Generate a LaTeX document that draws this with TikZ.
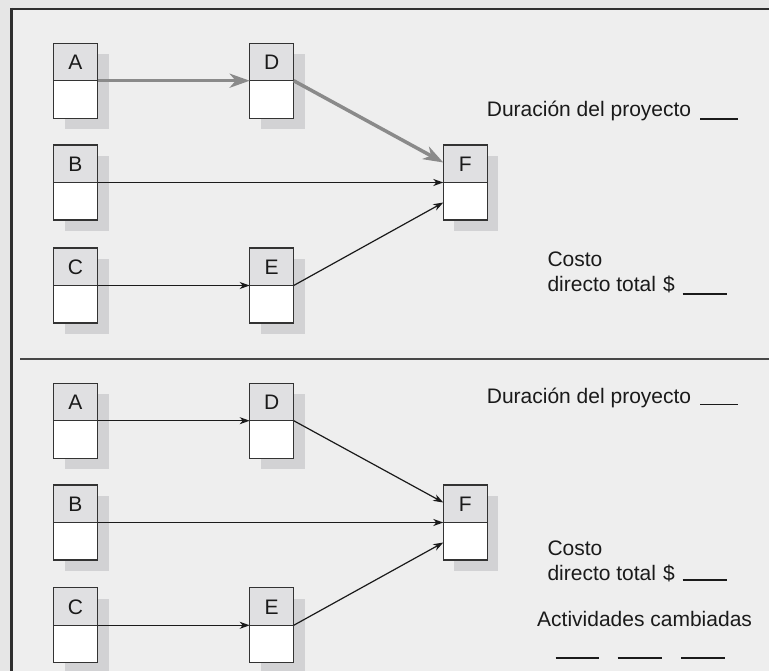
\documentclass[tikz,border=0pt]{standalone}
\usepackage{fontspec}
\setmainfont{Liberation Sans}
\usetikzlibrary{arrows.meta,shadows}
\definecolor{outerbg}{HTML}{E6E6E6}
\definecolor{innerbg}{HTML}{EEEEEE}
\definecolor{framec}{HTML}{2E2E2E}
\definecolor{topgray}{HTML}{E0E0E2}
\definecolor{shadowc}{HTML}{D2D2D4}
\definecolor{boxline}{HTML}{333333}
\definecolor{inkc}{HTML}{1A1A1A}
\definecolor{critc}{HTML}{8A8A8A}
\tikzset{
  every node/.style={font=\fontsize{21pt}{24pt}\selectfont, text=inkc},
  actbox/.style={draw=boxline, line width=1.3pt, fill=white,
    minimum width=44pt, minimum height=75pt, inner sep=0pt, outer sep=0pt,
    drop shadow={shadow xshift=11pt, shadow yshift=-11pt, fill=shadowc, opacity=1},
    path picture={
      \fill[topgray] (path picture bounding box.north west) rectangle (path picture bounding box.east);
      \draw[boxline, line width=1.3pt] (path picture bounding box.west) -- (path picture bounding box.east);
    },
    label={[yshift=18.5pt, inner sep=0pt]center:#1}},
  thinarrow/.style={draw=inkc, line width=1.2pt, -{Stealth[length=10pt,width=7pt,inset=3pt]}},
  critarrow/.style={draw=critc, line width=3.5pt, -{Stealth[length=20pt,width=14pt,inset=6pt]}},
  sidetext/.style={anchor=base west, inner sep=0pt},
  blank/.style={draw=inkc, line width=1.3pt},
}
\begin{document}
\begin{tikzpicture}[x=1pt,y=-1pt]
\useasboundingbox (0,0) rectangle (769,671);
\fill[outerbg] (0,0) rectangle (769,671);
\fill[innerbg] (11,9) rectangle (775,680);
\draw[framec, line width=2.8pt] (11,9) -- (775,9);
\draw[framec, line width=2.7pt] (11.3,8) -- (11.3,680);
\draw[draw=boxline!90, line width=1.5pt] (20,359) -- (775,359);

% ---------- top panel ----------
\node[actbox=A] (A1) at (75.5,80.7) {};
\node[actbox=D] (D1) at (271.7,80.7) {};
\node[actbox=B] (B1) at (75.5,182.5) {};
\node[actbox=F] (F1) at (465.3,182.5) {};
\node[actbox=C] (C1) at (75.5,285.5) {};
\node[actbox=E] (E1) at (271.7,285.5) {};

\draw[critarrow] (A1.east) -- (D1.west);
\draw[critarrow] (D1.east) -- ([yshift=20pt]F1.west);
\draw[thinarrow] (B1.east) -- (F1.west);
\draw[thinarrow] (C1.east) -- (E1.west);
\draw[thinarrow] (E1.east) -- ([yshift=-20pt]F1.west);

\node[sidetext] (dur1) at (486.7,116.7) {Duración del proyecto};
\draw[blank] (700,119) -- (738,119);
\node[sidetext] (cos1) at (547.3,266.7) {Costo};
\node[sidetext] (dir1) at (547.3,291.7) {directo total\hspace{7pt}\$};
\draw[blank] (682.7,294) -- (726.7,294);

% ---------- bottom panel ----------
\node[actbox=A] (A2) at (75.5,420.7) {};
\node[actbox=D] (D2) at (271.7,420.7) {};
\node[actbox=B] (B2) at (75.5,522.5) {};
\node[actbox=F] (F2) at (465.3,522.5) {};
\node[actbox=C] (C2) at (75.5,625.3) {};
\node[actbox=E] (E2) at (271.7,625.3) {};

\draw[thinarrow] (A2.east) -- (D2.west);
\draw[thinarrow] (D2.east) -- ([yshift=20pt]F2.west);
\draw[thinarrow] (B2.east) -- (F2.west);
\draw[thinarrow] (C2.east) -- (E2.west);
\draw[thinarrow] (E2.east) -- ([yshift=-20pt]F2.west);

\node[sidetext] (dur2) at (486.7,403.3) {Duración del proyecto};
\draw[blank] (700,404.5) -- (738,404.5);
\node[sidetext] (cos2) at (547.3,555.7) {Costo};
\node[sidetext] (dir2) at (547.3,580) {directo total\hspace{7pt}\$};
\draw[blank] (682.7,580) -- (726.7,580);
\node[sidetext] (act2) at (537,626.7) {Actividades cambiadas};
\draw[blank] (555.7,658) -- (599,658);
\draw[blank] (617.7,658) -- (662.3,658);
\draw[blank] (681,658) -- (725,658);
\end{tikzpicture}
\end{document}
